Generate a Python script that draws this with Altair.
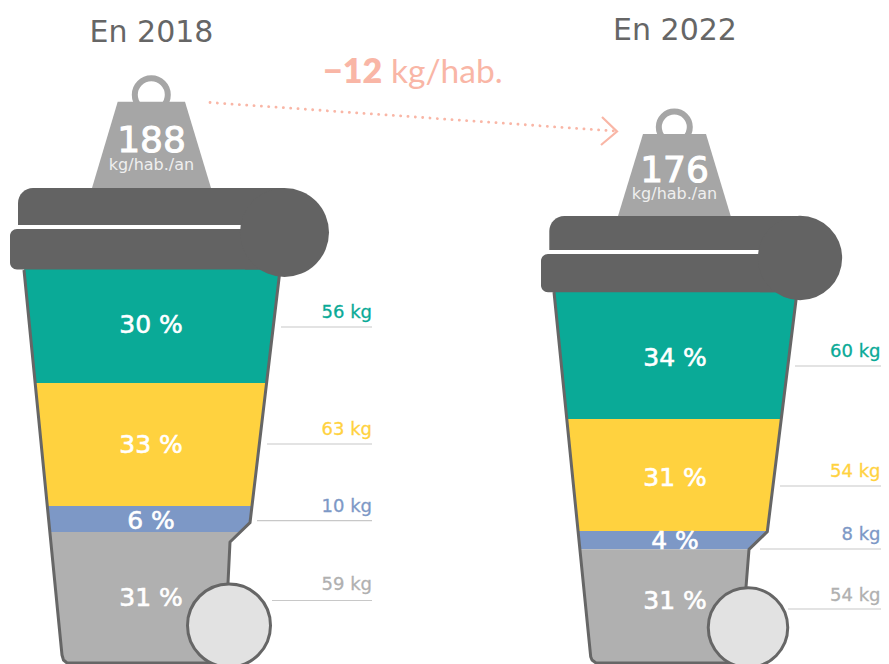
import altair as alt
import pandas as pd

TEAL, YELLOW, BLUE, GREY = "#0aaa97", "#ffd23f", "#7d98c6", "#b0b0b0"
DARK, WEIGHT, WHEEL, SALMON, RULE = "#636363", "#a6a6a6", "#e2e2e2", "#f9b6a6", "#c8c8c8"
SANS = "DejaVu Sans"
SERIES_COLORS = [TEAL, YELLOW, BLUE, GREY]

YEARS = ["En 2018", "En 2022"]
TOTALS = ["188", "176"]
SHARES_2018 = ["30 %", "33 %", "6 %", "31 %"]
SHARES_2022 = ["34 %", "31 %", "4 %", "31 %"]
KG_2018 = ["56 kg", "63 kg", "10 kg", "59 kg"]
KG_2022 = ["60 kg", "54 kg", "8 kg", "54 kg"]

X = alt.Scale(domain=[8, 881], nice=False, zero=False)
Y = alt.Scale(domain=[664, 8], nice=False, zero=False)


def xq(f="x"):
    return alt.X(f"{f}:Q", scale=X, axis=None)


def yq(f="y"):
    return alt.Y(f"{f}:Q", scale=Y, axis=None)


def band(rows, color):
    df = pd.DataFrame(rows, columns=["y", "x", "x2"])
    return alt.Chart(df).mark_area(color=color, orient="horizontal", interpolate="linear").encode(
        y=yq(), x=xq(), x2="x2:Q")


def path(points, color, width, **kw):
    df = pd.DataFrame(points, columns=["x", "y"]).reset_index()
    return alt.Chart(df).mark_line(color=color, strokeWidth=width, **kw).encode(
        x=xq(), y=yq(), order="index:Q")


def box(x, x2, y, y2, color, **kw):
    df = pd.DataFrame([{"x": x, "x2": x2, "y": y, "y2": y2}])
    return alt.Chart(df).mark_rect(color=color, **kw).encode(
        x=xq(), x2="x2:Q", y=yq(), y2="y2:Q")


def disc(x, y, d, **kw):
    df = pd.DataFrame([{"x": x, "y": y}])
    return alt.Chart(df).mark_point(shape="circle", size=d * d, opacity=1, **kw).encode(
        x=xq(), y=yq())


def label(s, x, y, size, color, weight=400, align="center", font=SANS, thick=0.0):
    df = pd.DataFrame([{"x": x, "y": y, "t": s}])
    kw = {"stroke": color, "strokeWidth": thick} if thick else {}
    return alt.Chart(df).mark_text(
        fontSize=size, color=color, fontWeight=weight, align=align,
        baseline="alphabetic", font=font, **kw,
    ).encode(x=xq(), y=yq(), text="t:N")


def rule(x, x2, y):
    df = pd.DataFrame([{"x": x, "x2": x2, "y": y}])
    return alt.Chart(df).mark_rule(color=RULE, strokeWidth=1.2).encode(
        x=xq(), x2="x2:Q", y=yq())


def bin_layers(b):
    out = [
        band(b["teal"], TEAL), band(b["yellow"], YELLOW),
        band(b["blue"], BLUE), band(b["grey"], GREY),
        path(b["outline"], "#666666", 3, strokeJoin="round"),
        path(b["edge"], "#666666", 3, strokeJoin="round"),
    ]
    for r, (s, bx, by), c in zip(b["rules"], b["kg"], SERIES_COLORS):
        out.append(rule(*r))
        out.append(label(s, bx, by, 18, c, 400, "right", thick=0.3))
    out.append(disc(*b["wheel"], fill=WHEEL, stroke="#666666", strokeWidth=3, filled=True))
    ring = b["ring"]
    out += [
        disc(ring[0], ring[1], ring[2], fill=None, filled=False, stroke=WEIGHT, strokeWidth=6),
        band(b["weight"], WEIGHT),
    ]
    l = b["lid"]
    out += [
        box(l["ux"], l["rx"], l["top"], l["ub"], DARK, cornerRadiusTopLeft=15),
        box(l["lx"], l["rx"], l["lt"], l["lb"], DARK, cornerRadius=7),
        box(l["gap"], l["rx"], l["ub"], l["lt"], DARK),
        box(l["rx"] - 40, l["rx"], l["top"], l["lb"], DARK),
        disc(l["cx"], l["cy"], l["d"], fill=DARK, filled=True, strokeWidth=0),
    ]
    for s, (x, y) in zip(b["shares"], b["share_pos"]):
        out.append(label(s, x, y, 25, "white", 400, thick=0.6))
    out.append(label(b["title"], b["title_pos"][0], b["title_pos"][1], 30, "#666666", 400))
    out.append(label(b["total"], b["total_pos"][0], b["total_pos"][1], 36, "white", 400, thick=1.0))
    out.append(label("kg/hab./an", b["unit_pos"][0], b["unit_pos"][1], 16, "#efefef", 400))
    return out


BIN_2018 = dict(
    title=YEARS[0], title_pos=(151.5, 41.5), total=TOTALS[0], total_pos=(151.5, 151.5), unit_pos=(151.5, 170),
    teal=[(268, 24, 280), (383, 35.2, 266.5)],
    yellow=[(383, 35.2, 266.5), (506, 47.3, 251.5)],
    blue=[(506, 47.3, 251.5), (522.7, 49, 250), (532, 49.9, 240.4)],
    grey=[(532, 49.9, 240.4), (542, 50.9, 230), (583, 55, 228), (655, 62, 228), (663, 67, 228)],
    outline=[(24, 270), (62, 655), (63.5, 660), (67, 663), (228, 663)],
    edge=[(280, 270), (250, 522.7), (230, 542), (228, 583)],
    wheel=(229, 625.5, 83),
    shares=SHARES_2018, share_pos=[(151, 333), (151, 453), (151, 529), (151, 606)],
    kg=list(zip(KG_2018, [372] * 4, [318, 435, 512, 590])),
    rules=[(281, 372, 327), (267, 372, 444), (257, 372, 520.7), (272, 372, 600.5)],
    ring=(151.3, 94.7, 33),
    weight=[(101.7, 117.7, 185), (188, 92, 211)],
    lid=dict(ux=18, rx=285, top=188, ub=225, lx=10, lt=229, lb=269.5, gap=241, cx=284.5, cy=232.5, d=89),
)

BIN_2022 = dict(
    title=YEARS[1], title_pos=(675, 40), total=TOTALS[1], total_pos=(674.5, 181.5), unit_pos=(674.5, 199),
    teal=[(290, 554, 797), (419, 566.8, 781.2)],
    yellow=[(419, 566.8, 781.2), (531, 578, 767)],
    blue=[(531, 578, 767), (549.3, 580, 749)],
    grey=[(549.3, 580, 749), (587, 583.6, 746), (656.7, 590.7, 746), (663, 596, 746)],
    outline=[(554, 292), (590.7, 656.7), (592, 660), (596, 663), (746, 663)],
    edge=[(797, 292), (767.3, 531.7), (749, 549.3), (746, 587)],
    wheel=(748, 627.6, 79.5),
    shares=SHARES_2022, share_pos=[(675, 366), (675, 486), (675, 549), (675, 609)],
    kg=list(zip(KG_2022, [880.5] * 4, [357, 477, 540, 601])),
    rules=[(795, 881, 366), (780, 881, 486), (760, 881, 549), (788, 881, 609)],
    ring=(674.3, 127, 31),
    weight=[(134, 643, 706), (216, 618, 730.7)],
    lid=dict(ux=549.3, rx=800, top=216, ub=250, lx=541, lt=254, lb=292.3, gap=759, cx=800, cy=258, d=84.3),
)

layers = []
for b in (BIN_2018, BIN_2022):
    layers += bin_layers(b)

ARROW_LINE = [(210, 102.5), (614, 131)]
ARROW_HEAD = [(602, 117), (617, 131.5), (601, 145)]
layers += [
    path(ARROW_LINE, SALMON, 2.8, strokeDash=[0.1, 7.25], strokeCap="round"),
    path(ARROW_HEAD, SALMON, 2.2),
    label("−12", 323, 82.5, 34, SALMON, 800, "left", "Lato"),
    label("kg/hab.", 391, 82.5, 33.5, SALMON, 400, "left", "Lato"),
]

chart = alt.layer(*layers).properties(
    width=873, height=656, padding=0,
    autosize=alt.AutoSizeParams(type="none"),
).configure_view(stroke=None)

chart.save("out.html", embed_options={"renderer": "svg", "actions": False})
